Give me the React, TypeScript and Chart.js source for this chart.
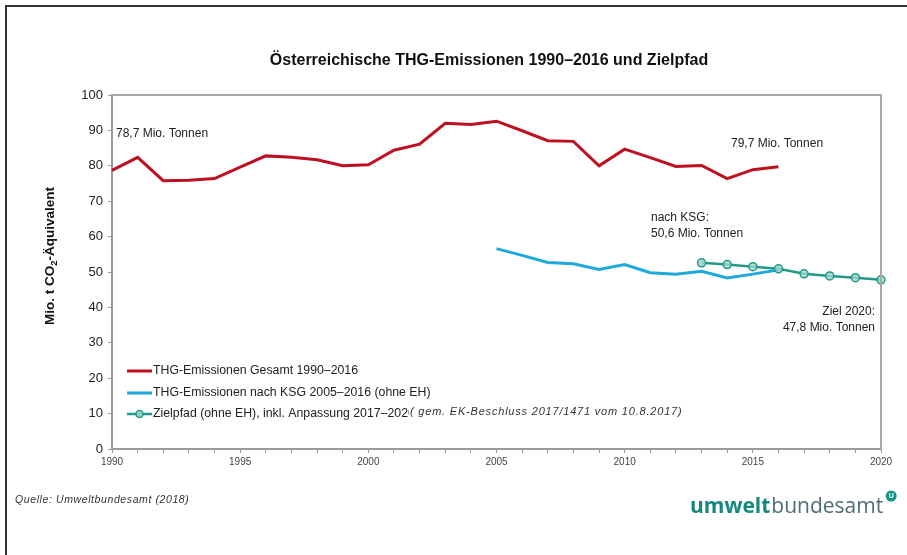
import React, { useEffect, useRef } from 'react';
import { Chart, registerables } from 'chart.js';
Chart.register(...registerables);

const FONT = "'Liberation Sans', Arial, sans-serif";

const chartTitle = 'Österreichische THG-Emissionen 1990–2016 und Zielpfad';
const yTitleParts = ['Mio. t CO', '2', '-Äquivalent'];

const totalYears = [1990, 1991, 1992, 1993, 1994, 1995, 1996, 1997, 1998, 1999, 2000, 2001, 2002, 2003, 2004, 2005, 2006, 2007, 2008, 2009, 2010, 2011, 2012, 2013, 2014, 2015, 2016];
const totalValues = [78.7, 82.4, 75.8, 75.9, 76.4, 79.6, 82.8, 82.4, 81.7, 80.0, 80.3, 84.4, 86.1, 92.0, 91.7, 92.6, 89.9, 87.1, 86.9, 80.0, 84.7, 82.3, 79.8, 80.1, 76.4, 78.9, 79.7];

const ksgYears = [2005, 2006, 2007, 2008, 2009, 2010, 2011, 2012, 2013, 2014, 2015, 2016];
const ksgValues = [56.6, 54.7, 52.7, 52.3, 50.7, 52.1, 49.8, 49.4, 50.2, 48.3, 49.4, 50.6];

const targetYears = [2013, 2014, 2015, 2016, 2017, 2018, 2019, 2020];
const targetValues = [52.6, 52.1, 51.5, 50.9, 49.5, 48.9, 48.4, 47.8];

const seriesLabels = [
  'THG-Emissionen Gesamt 1990–2016',
  'THG-Emissionen nach KSG 2005–2016 (ohne EH)',
  'Zielpfad (ohne EH), inkl. Anpassung 2017–2020',
];
const legendNote = '( gem. EK-Beschluss 2017/1471 vom 10.8.2017)';

const annotations = [
  { lines: ['78,7 Mio. Tonnen'], x: 116, y: 134, align: 'left' },
  { lines: ['79,7 Mio. Tonnen'], x: 731, y: 144, align: 'left' },
  { lines: ['nach KSG:', '50,6 Mio. Tonnen'], x: 651, y: 218, align: 'left' },
  { lines: ['Ziel 2020:', '47,8 Mio. Tonnen'], x: 875, y: 312, align: 'right' },
];

const sourceText = 'Quelle: Umweltbundesamt (2018)';
const logoBold = 'umwelt';
const logoRegular = 'bundesamt';

const RED = '#bf1022';
const BLUE = '#1fa8dc';
const TEAL = '#23998a';

const toPoints = (xs: number[], ys: number[]) => xs.map((x, i) => ({ x, y: ys[i] }));

const decor = {
  id: 'decor',
  afterDraw(chart: any) {
    const ctx: any = chart.ctx;
    const a = chart.chartArea;
    ctx.save();

    // outer frame (top + left)
    ctx.strokeStyle = '#333';
    ctx.lineWidth = 2;
    ctx.beginPath();
    ctx.moveTo(6, 555);
    ctx.lineTo(6, 6);
    ctx.lineTo(907, 6);
    ctx.stroke();

    // plot box top + right
    ctx.strokeStyle = '#a8a8a8';
    ctx.lineWidth = 2;
    ctx.beginPath();
    ctx.moveTo(a.left, a.top);
    ctx.lineTo(a.right, a.top);
    ctx.lineTo(a.right, a.bottom);
    ctx.stroke();

    // title
    ctx.fillStyle = '#111';
    ctx.font = `bold 16px ${FONT}`;
    ctx.textAlign = 'center';
    ctx.textBaseline = 'middle';
    ctx.fillText(chartTitle, 489, 61);

    // y title
    ctx.save();
    ctx.translate(50, 256);
    ctx.rotate(-Math.PI / 2);
    const big = `bold 13.5px ${FONT}`;
    const small = `bold 9.5px ${FONT}`;
    ctx.font = big;
    const w0 = ctx.measureText(yTitleParts[0]).width;
    const w2 = ctx.measureText(yTitleParts[2]).width;
    ctx.font = small;
    const w1 = ctx.measureText(yTitleParts[1]).width;
    const x0 = -(w0 + w1 + w2) / 2;
    ctx.textAlign = 'left';
    ctx.font = big;
    ctx.fillText(yTitleParts[0], x0, 0);
    ctx.font = small;
    ctx.fillText(yTitleParts[1], x0 + w0, 4);
    ctx.font = big;
    ctx.fillText(yTitleParts[2], x0 + w0 + w1, 0);
    ctx.restore();

    // annotations
    ctx.fillStyle = '#222';
    ctx.font = `12px ${FONT}`;
    ctx.textBaseline = 'middle';
    annotations.forEach((an) => {
      ctx.textAlign = an.align;
      an.lines.forEach((ln, i) => ctx.fillText(ln, an.x, an.y + i * 15.5));
    });

    // legend
    const ds = chart.data.datasets;
    const ly = [371, 393, 414];
    [0, 1, 2].forEach((di, i) => {
      const d = ds[di];
      const y = ly[i];
      ctx.strokeStyle = d.borderColor;
      ctx.lineWidth = d.borderWidth;
      ctx.beginPath();
      ctx.moveTo(127, y);
      ctx.lineTo(152, y);
      ctx.stroke();
      if (d.pointRadius > 0) {
        ctx.beginPath();
        ctx.arc(139.5, y, 3.5, 0, Math.PI * 2);
        ctx.fillStyle = d.pointBackgroundColor;
        ctx.fill();
        ctx.lineWidth = 1.5;
        ctx.strokeStyle = d.borderColor;
        ctx.stroke();
      }
      ctx.fillStyle = '#222';
      ctx.font = `12.3px ${FONT}`;
      ctx.textAlign = 'left';
      ctx.textBaseline = 'middle';
      ctx.fillText(d.label, 153, y);
    });
    // note box covering the end of the last legend text
    ctx.font = `12.3px ${FONT}`;
    const cut = 153 + ctx.measureText(seriesLabels[2].slice(0, -1)).width + 1;
    ctx.fillStyle = '#fff';
    ctx.fillRect(cut, 404, 300, 18);
    ctx.fillStyle = '#333';
    ctx.font = `italic 11px ${FONT}`;
    ctx.letterSpacing = '0.8px';
    ctx.fillText(legendNote, cut + 1, 412);

    // source
    ctx.fillStyle = '#333';
    ctx.font = `italic 10.5px ${FONT}`;
    ctx.letterSpacing = '0.6px';
    ctx.textAlign = 'left';
    ctx.fillText(sourceText, 15, 500);
    ctx.letterSpacing = '0px';

    // logo
    const lf = "'Open Sans', 'Noto Sans', sans-serif";
    ctx.textBaseline = 'alphabetic';
    ctx.font = `bold 21px ${lf}`;
    const wb = ctx.measureText(logoBold).width;
    ctx.fillStyle = '#15877f';
    ctx.fillText(logoBold, 690, 513);
    ctx.font = `21px ${lf}`;
    ctx.fillStyle = '#4f6d72';
    ctx.fillText(logoRegular, 691 + wb, 513);
    const wr = ctx.measureText(logoRegular).width;
    const cx = 691 + wb + wr + 8;
    ctx.beginPath();
    ctx.arc(cx, 496, 5.5, 0, Math.PI * 2);
    ctx.fillStyle = '#14978c';
    ctx.fill();
    ctx.fillStyle = '#fff';
    ctx.font = `bold 7px ${FONT}`;
    ctx.textAlign = 'center';
    ctx.textBaseline = 'middle';
    ctx.fillText('U', cx, 496.5);

    ctx.restore();
  },
};

export default function App() {
  const ref = useRef<HTMLCanvasElement>(null);
  useEffect(() => {
    Chart.defaults.font.family = FONT;
    const chart = new Chart(ref.current as HTMLCanvasElement, {
      type: 'line',
      data: {
        datasets: [
          {
            label: seriesLabels[0],
            data: toPoints(totalYears, totalValues),
            borderColor: RED,
            backgroundColor: RED,
            borderWidth: 3,
            pointRadius: 0,
            order: 2,
            clip: false,
          },
          {
            label: seriesLabels[1],
            data: toPoints(ksgYears, ksgValues),
            borderColor: BLUE,
            backgroundColor: BLUE,
            borderWidth: 3,
            pointRadius: 0,
            order: 1,
            clip: false,
          },
          {
            label: seriesLabels[2],
            data: toPoints(targetYears, targetValues),
            borderColor: TEAL,
            backgroundColor: TEAL,
            borderWidth: 2.5,
            pointRadius: 4,
            pointBorderWidth: 1.5,
            pointBorderColor: TEAL,
            pointBackgroundColor: 'rgba(160,214,205,0.8)',
            order: 0,
            clip: false,
          },
        ] as any,
      },
      options: {
        responsive: false,
        animation: false,
        layout: { padding: { top: 95, right: 26, left: 0, bottom: 0 } },
        plugins: {
          legend: { display: false },
          tooltip: { enabled: false },
          title: { display: false },
        },
        scales: {
          x: {
            type: 'linear',
            min: 1990,
            max: 2020,
            afterFit: (s: any) => {
              s.height = 106;
            },
            ticks: {
              stepSize: 1,
              autoSkip: false,
              maxRotation: 0,
              padding: 3,
              color: '#444',
              font: { size: 10, family: FONT },
              callback: (v: any) => (Number(v) % 5 === 0 ? String(v) : ''),
            },
            grid: { drawOnChartArea: false, drawTicks: true, tickLength: 4, color: '#9a9a9a', lineWidth: 1 },
            border: { color: '#9a9a9a', width: 2 },
          },
          y: {
            min: 0,
            max: 100,
            afterFit: (s: any) => {
              s.width = 112;
            },
            ticks: {
              stepSize: 10,
              padding: 5,
              color: '#222',
              font: { size: 13, family: FONT },
            },
            grid: { drawOnChartArea: false, drawTicks: true, tickLength: 4, color: '#9a9a9a', lineWidth: 1 },
            border: { color: '#9a9a9a', width: 2 },
          },
        },
      } as any,
      plugins: [decor],
    });
    return () => chart.destroy();
  }, []);
  return (
    <div style={{ position: 'absolute', left: 0, top: 0, width: 907, height: 555, background: '#fff' }}>
      <canvas ref={ref} width={907} height={555} style={{ display: 'block' }} />
    </div>
  );
}
